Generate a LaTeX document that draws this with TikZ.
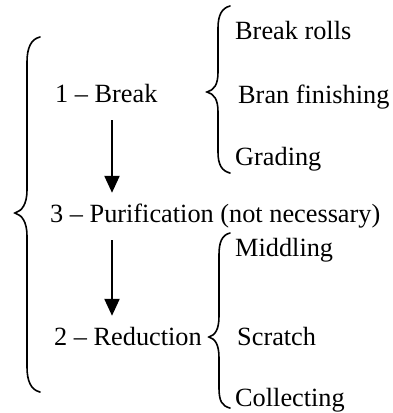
\documentclass[tikz,border=0pt]{standalone}
\usepackage{fontspec}
\setmainfont{Liberation Serif}
\usetikzlibrary{arrows.meta}
\begin{document}
\begin{tikzpicture}[x=1pt,y=-1pt,
  lbl/.style={anchor=base west,inner sep=0pt,font=\fontsize{26.3}{30}\selectfont,
              text height=17pt,text depth=6pt},
  brace/.style={line width=1.6pt,line cap=round},
  arr/.style={line width=2.2pt,-{Triangle[width=15pt,length=17pt]}}]
\useasboundingbox (0,0) rectangle (393,413);

% stages
\node[lbl] (brk) at (55,102) {1 – Break};
\node[lbl] (pur) at (50,222) {3 – Purification (not necessary)};
\node[lbl] (red) at (54,345) {2 – Reduction};

% sub-steps of the break stage
\node[lbl] (rolls) at (235,39) {Break rolls};
\node[lbl] (bran) at (238,103) {Bran finishing};
\node[lbl] (grad) at (235,165) {Grading};

% sub-steps of the reduction stage
\node[lbl] (mid) at (235,256) {Middling};
\node[lbl] (scr) at (237,345) {Scratch};
\node[lbl] (col) at (235,406) {Collecting};

% flow between stages
\coordinate (ax) at (112,0);
\draw[arr,shorten <=12pt,shorten >=12pt] (brk.south -| ax) -- (pur.north -| ax);
\draw[arr,shorten <=12pt,shorten >=12pt] (pur.south -| ax) -- (red.north -| ax);

% large brace around all stages
\draw[brace] (40,37) .. controls (31,39) and (27,48) .. (27,62) -- (27,190)
  .. controls (27,204) and (22,211) .. (15,213)
  .. controls (22,215) and (27,222) .. (27,236) -- (27,367)
  .. controls (27,381) and (31,390) .. (40,392);

% brace for the break stage
\draw[brace] (230,6) .. controls (222,8) and (218,15) .. (218,28) -- (218,72)
  .. controls (218,85) and (214,90) .. (207,92)
  .. controls (214,94) and (218,99) .. (218,112) -- (218,152)
  .. controls (218,165) and (222,171) .. (230,173);

% brace for the reduction stage
\draw[brace] (230,233) .. controls (222,235) and (219,242) .. (219,255) -- (219,316)
  .. controls (219,330) and (215,335) .. (209,337)
  .. controls (215,339) and (219,344) .. (219,358) -- (219,388)
  .. controls (219,401) and (222,406) .. (230,408);
\end{tikzpicture}
\end{document}
